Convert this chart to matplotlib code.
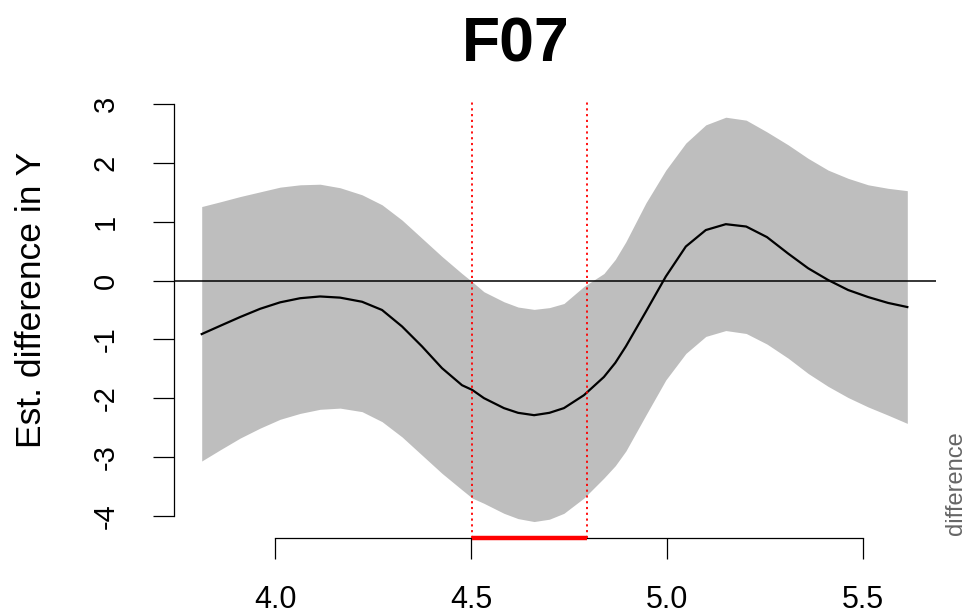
import matplotlib
matplotlib.use("Agg")
import matplotlib.pyplot as plt
from matplotlib import font_manager

# ---- data ----
x_vals = [3.813, 3.860, 3.911, 3.962, 4.013, 4.064, 4.115, 4.166, 4.222, 4.273,
          4.324, 4.375, 4.426, 4.477, 4.503, 4.533, 4.584, 4.620, 4.661, 4.700,
          4.737, 4.788, 4.839, 4.868, 4.895, 4.946, 4.997, 5.048, 5.099, 5.150, 5.202,
          5.255, 5.309, 5.360, 5.411, 5.462, 5.513, 5.564, 5.613]
est_diff = [-0.91, -0.77, -0.62, -0.48, -0.37, -0.30, -0.27, -0.29, -0.36, -0.50,
            -0.78, -1.12, -1.49, -1.78, -1.86, -2.00, -2.17, -2.25, -2.29, -2.25,
            -2.17, -1.95, -1.64, -1.40, -1.12, -0.53, 0.07, 0.58, 0.86, 0.96, 0.92,
            0.74, 0.46, 0.21, 0.01, -0.16, -0.28, -0.38, -0.45]
upper_ci = [1.26, 1.34, 1.43, 1.51, 1.59, 1.63, 1.64, 1.58, 1.46, 1.29,
            1.03, 0.72, 0.41, 0.12, -0.02, -0.19, -0.36, -0.45, -0.49, -0.46,
            -0.39, -0.10, 0.12, 0.36, 0.66, 1.32, 1.88, 2.34, 2.65, 2.78, 2.73,
            2.53, 2.31, 2.08, 1.88, 1.74, 1.63, 1.57, 1.53]
lower_ci = [-3.07, -2.88, -2.68, -2.51, -2.36, -2.26, -2.19, -2.17, -2.23, -2.40,
            -2.66, -2.97, -3.28, -3.56, -3.70, -3.79, -3.96, -4.05, -4.10, -4.06,
            -3.96, -3.70, -3.36, -3.15, -2.90, -2.29, -1.69, -1.24, -0.95, -0.85, -0.90,
            -1.08, -1.32, -1.58, -1.80, -1.99, -2.15, -2.29, -2.43]
sig_interval = [4.503, 4.795]
x_ticks = [4.0, 4.5, 5.0, 5.5]
x_tick_labels = ["4.0", "4.5", "5.0", "5.5"]
y_ticks = [-4, -3, -2, -1, 0, 1, 2, 3]
title = "F07"
y_label = "Est. difference in Y"
side_note = "difference"

plt.rcParams['font.family'] = ['Liberation Sans', 'DejaVu Sans']

installed = {f.name for f in font_manager.fontManager.ttflist}
narrow = ['Liberation Sans Narrow', 'Liberation Sans'] if 'Liberation Sans Narrow' in installed \
    else ['Liberation Sans']

fig = plt.figure(figsize=(9.69, 6.15), dpi=100)
ax = fig.add_axes([174 / 969, 77 / 615, 762 / 969, 437 / 615])

ax.fill_between(x_vals, lower_ci, upper_ci, color="#bebebe", linewidth=0, zorder=1)
ax.plot(x_vals, est_diff, color="black", linewidth=1.6, zorder=3)
ax.axhline(0, color="black", linewidth=1.1, zorder=2)
for xv in sig_interval:
    ax.axvline(xv, color="red", linewidth=1.3, linestyle=(0, (1.2, 2.0)), zorder=4)

ax.set_xlim(3.7423, 5.6862)
ax.set_ylim(-4.38, 3.056)

# significant interval on the x axis
ax.plot(sig_interval, [-4.38, -4.38], color="red", linewidth=3.2,
        solid_capstyle="butt", zorder=6, clip_on=False)

for s in ["top", "right"]:
    ax.spines[s].set_visible(False)
ax.spines["left"].set_bounds(-4, 3)
ax.spines["bottom"].set_bounds(4.0, 5.5)
for s in ["left", "bottom"]:
    ax.spines[s].set_linewidth(0.9)

ax.set_xticks(x_ticks)
ax.set_xticklabels(x_tick_labels, family=narrow, fontsize=22)
ax.set_yticks(y_ticks)
ax.set_yticklabels([str(v) for v in y_ticks], rotation=90, va="center", fontsize=21)
ax.tick_params(axis="both", direction="out", length=15, width=0.9)
ax.tick_params(axis="x", pad=19)
ax.tick_params(axis="y", pad=24)

fig.text(32 / 969, 1 - 300 / 615, y_label, rotation=90, ha="center", va="center", fontsize=25.5)
fig.text(516 / 969, 1 - 45 / 615, title, ha="center", va="center", fontsize=45, fontweight="bold")
fig.text(956 / 969, 1 - 483 / 615, side_note, rotation=90, ha="center", va="center",
         fontsize=17, color="#666666")

fig.savefig("out.png", dpi=100)
